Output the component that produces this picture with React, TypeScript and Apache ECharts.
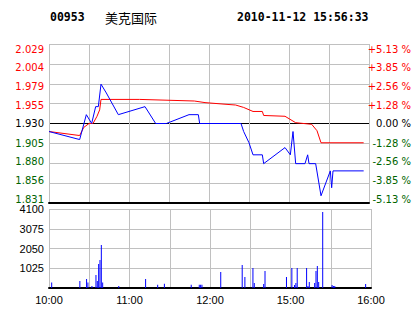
import React, { useEffect, useRef } from "react";
import * as echarts from "echarts";

// ---- data ----
const stockCode = "00953";
const stockName = "美克国际";
const timestamp = "2010-11-12 15:56:33";
const prevClose = 1.93;
const priceStep = 0.02475;

const priceTickLabels = ["1.831", "1.856", "1.880", "1.905", "1.930", "1.955", "1.979", "2.004", "2.029"];
const pctTickLabels = ["-5.13 %", "-3.85 %", "-2.56 %", "-1.28 %", "0.00 %", "+1.28 %", "+2.56 %", "+3.85 %", "+5.13 %"];
const timeLabels = ["10:00", "", "11:00", "", "12:00", "", "15:00", "", "16:00"];
const volumeTickLabels = ["", "1025", "2050", "3075", "4100"];

// minutes of trading since 10:00 (lunch break removed)
const priceMinutes = [0, 23, 28, 32, 35, 37, 39, 43, 52, 72, 80, 88, 105, 112, 113, 144, 146, 150, 153, 160, 161, 177, 181, 183, 185, 192, 194, 195, 200, 204, 211, 212, 213, 236];
const prices = [1.92, 1.91, 1.941, 1.93, 1.951, 1.951, 1.979, 1.968, 1.941, 1.951, 1.93, 1.93, 1.941, 1.941, 1.93, 1.93, 1.92, 1.906, 1.891, 1.891, 1.88, 1.9, 1.891, 1.92, 1.88, 1.88, 1.891, 1.88, 1.88, 1.84, 1.871, 1.85, 1.871, 1.871];

const avgMinutes = [0, 23, 26, 30, 33, 36, 38, 39, 68, 109, 117, 132, 140, 146, 153, 160, 161, 177, 185, 197, 201, 204, 236];
const avgPrices = [1.92, 1.915, 1.925, 1.93, 1.93, 1.939, 1.947, 1.96, 1.96, 1.958, 1.956, 1.954, 1.953, 1.95, 1.945, 1.945, 1.94, 1.939, 1.931, 1.929, 1.921, 1.906, 1.906];

const volMinutes = [2, 23, 28, 29, 32, 35, 36, 37, 38, 39, 40, 52, 72, 81, 86, 106, 112, 113, 114, 128, 144, 146, 152, 153, 160, 161, 177, 181, 183, 184, 185, 192, 193, 194, 198, 199, 200, 201, 204, 211, 212, 213, 236];
const volumes = [280, 360, 470, 280, 100, 680, 360, 1250, 1450, 2230, 280, 100, 470, 170, 220, 170, 170, 170, 170, 830, 1190, 570, 1040, 260, 210, 880, 570, 1040, 160, 260, 1040, 1040, 100, 310, 260, 880, 1140, 310, 3940, 160, 100, 100, 210];

const GRID = "#c0c0c0";
const RED = "#ff0000";
const GREEN = "#006400";
const BLUE = "#0000ff";

// vertical nudge (px) of each price label, bottom to top
const labelNudge = [-3, -2, -1, 0, 0, 1, 2, 2.5, 4];

export default function App() {
  const ref = useRef<HTMLDivElement>(null);
  useEffect(() => {
    if (!ref.current) return;
    const chart = echarts.init(ref.current, null, { renderer: "svg" });
    const toK = (p: number) => (p - prevClose) / priceStep;
    const labelRich: Record<string, any> = {};
    labelNudge.forEach((off, i) => {
      labelRich["l" + i] = {
        color: i > 4 ? RED : i === 4 ? "#000" : GREEN,
        fontFamily: "DejaVu Sans",
        fontSize: 10,
        lineHeight: 12 + 2 * Math.abs(off),
        verticalAlign: off > 0 ? "bottom" : off < 0 ? "top" : "middle",
      };
    });
    const styled = (arr: string[]) => (v: number) => {
      const i = Math.round(v) + 4;
      return `{l${i}|${arr[i]}}`;
    };
    // split line colours bottom→top; the previous-close line is black
    const priceSplitColors = priceTickLabels.map((_, i) => (i === 4 ? "#000" : GRID));
    chart.setOption({
      animation: false,
      backgroundColor: "#fff",
      graphic: [
        { type: "text", x: 50, y: 17, style: { text: stockCode, font: 'bold 11.5px "DejaVu Sans Mono"', fill: "#000", align: "left", verticalAlign: "middle" } },
        { type: "text", x: 105, y: 17, style: { text: stockName, font: '13px "Noto Sans CJK SC"', fill: "#000", align: "left", verticalAlign: "middle" } },
        { type: "text", x: 237, y: 17, style: { text: timestamp, font: 'bold 11.5px "DejaVu Sans Mono"', fill: "#000", align: "left", verticalAlign: "middle" } },
      ],
      grid: [
        { left: 49, top: 44, width: 322, height: 159 },
        { left: 49, top: 209, width: 322, height: 79 },
      ],
      xAxis: [
        {
          type: "value", gridIndex: 0, min: 0, max: 240, interval: 30,
          axisLabel: { show: false }, axisTick: { show: false },
          axisLine: { show: true, onZero: false, lineStyle: { color: "#000", width: 2 } },
          splitLine: { show: true, lineStyle: { color: GRID, width: 1 } },
        },
        {
          type: "value", gridIndex: 1, min: 0, max: 240, interval: 30,
          axisTick: { show: false },
          axisLine: { show: true, onZero: false, lineStyle: { color: "#000", width: 2 } },
          splitLine: { show: true, lineStyle: { color: GRID, width: 1 } },
          axisLabel: {
            show: true, margin: 6, color: "#000", fontFamily: "Liberation Sans", fontSize: 11,
            formatter: (v: number) => timeLabels[Math.round(v / 30)] || "",
          },
        },
      ],
      yAxis: [
        {
          type: "value", gridIndex: 0, min: -4, max: 4, interval: 1, position: "left",
          axisLine: { show: false }, axisTick: { show: false },
          splitLine: { show: true, lineStyle: { color: priceSplitColors, width: 1 } },
          axisLabel: { margin: 5, formatter: styled(priceTickLabels), rich: labelRich },
        },
        {
          type: "value", gridIndex: 0, min: -4, max: 4, interval: 1, position: "right",
          axisLine: { show: false }, axisTick: { show: false }, splitLine: { show: false },
          axisLabel: { margin: 42, align: "right", formatter: styled(pctTickLabels), rich: labelRich },
        },
        {
          type: "value", gridIndex: 1, min: 0, max: 4100, interval: 1025,
          axisLine: { show: false }, axisTick: { show: false },
          splitLine: { show: true, lineStyle: { color: GRID, width: 1 } },
          axisLabel: {
            margin: 5, color: "#000", fontFamily: "Liberation Sans", fontSize: 11, padding: [6, 0, 0, 0],
            formatter: (v: number) => volumeTickLabels[Math.round(v / 1025)] || "",
          },
        },
      ],
      series: [
        {
          type: "line", xAxisIndex: 0, yAxisIndex: 0, symbol: "none",
          data: avgMinutes.map((m, i) => [m, toK(avgPrices[i])]),
          lineStyle: { color: RED, width: 1 },
        },
        {
          type: "line", xAxisIndex: 0, yAxisIndex: 0, symbol: "none", z: 4,
          data: priceMinutes.map((m, i) => [m, toK(prices[i])]),
          lineStyle: { color: BLUE, width: 1 },
        },
        {
          type: "bar", xAxisIndex: 1, yAxisIndex: 2, barWidth: 1,
          data: volMinutes.map((m, i) => [m, volumes[i]]),
          itemStyle: { color: BLUE },
        },
      ],
    });
    return () => chart.dispose();
  }, []);
  return <div ref={ref} style={{ position: "fixed", left: 0, top: 0, width: 414, height: 314 }} />;
}
